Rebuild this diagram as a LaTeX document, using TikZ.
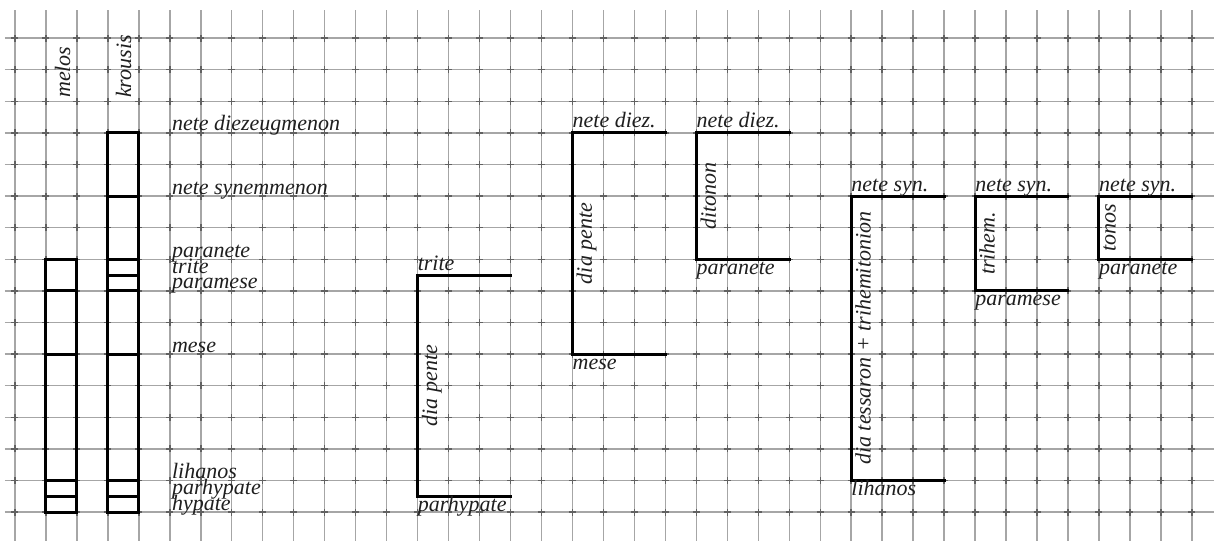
\documentclass[tikz,border=0pt]{standalone}
\usepackage{fontspec}
\setmainfont{Liberation Serif}
\begin{document}
\begin{tikzpicture}[x=30.97pt,y=-31.6pt,
  gridline/.style={draw=black!35,line width=1.4pt},
  gridtick/.style={draw=black!62,line width=1.4pt},
  heavy/.style={draw=black,line width=3pt,line cap=rect},
  lab/.style={font=\fontsize{22}{24}\selectfont\itshape,inner sep=0pt,text=black!88},
  rlab/.style={lab,rotate=90,anchor=north},
  toplab/.style={lab,anchor=base west,yshift=5pt},
  botlab/.style={lab,anchor=base west,yshift=-15pt},
  leftlab/.style={lab,anchor=base west,yshift=2pt,xshift=2pt}]
\useasboundingbox (-0.4843,-1.2025) rectangle (38.715,15.918);
\fill[white] (-0.4843,-1.2025) rectangle (38.715,15.918);
% graph paper
\foreach \i in {0,...,38} \draw[gridline] (\i,-0.886) -- (\i,15.918);
\foreach \j in {0,...,15} \draw[gridline] (-0.323,\j) -- (38.715,\j);
\foreach \i in {0,...,38} \foreach \j in {0,...,15}
  \draw[gridtick] (\i,\j) +(-3.5pt,0) -- +(3.5pt,0) +(0,-3.5pt) -- +(0,3.5pt);
% column headings
\node[lab,rotate=90,anchor=base west] (melos) at (1.776,1.899) {melos};
\node[lab,rotate=90,anchor=base west] (krousis) at (3.746,1.899) {krousis};
% melos column
\draw[heavy] (1,7) rectangle (2,15);
\foreach \j in {8,10,14,14.5} \draw[heavy] (1,\j) -- (2,\j);
% krousis column
\draw[heavy] (3,3) rectangle (4,15);
\foreach \j in {5,7,7.5,8,10,14,14.5} \draw[heavy] (3,\j) -- (4,\j);
% note names
\node[leftlab] (nd) at (5,3) {nete diezeugmenon};
\node[leftlab] (ns) at (5,5) {nete synemmenon};
\node[leftlab] (pn) at (5,7) {paranete};
\node[leftlab] (tr) at (5,7.5) {trite};
\node[leftlab] (pm) at (5,8) {paramese};
\node[leftlab] (me) at (5,10) {mese};
\node[leftlab] (li) at (5,14) {lihanos};
\node[leftlab] (ph) at (5,14.5) {parhypate};
\node[leftlab] (hy) at (5,15) {hypate};
% bracket 1
\draw[heavy] (16,7.5) -- (13,7.5) -- (13,14.5) -- (16,14.5);
\node[toplab] (b1t) at (13,7.5) {trite};
\node[botlab] (b1b) at (13,14.5) {parhypate};
\node[rlab] (b1r) at ([xshift=4pt]13,11) {dia pente};
% bracket 2
\draw[heavy] (21,3) -- (18,3) -- (18,10) -- (21,10);
\node[toplab] (b2t) at (18,3) {nete diez.};
\node[botlab] (b2b) at (18,10) {mese};
\node[rlab] (b2r) at ([xshift=4pt]18,6.5) {dia pente};
% bracket 3
\draw[heavy] (25,3) -- (22,3) -- (22,7) -- (25,7);
\node[toplab] (b3t) at (22,3) {nete diez.};
\node[botlab] (b3b) at (22,7) {paranete};
\node[rlab] (b3r) at ([xshift=4pt]22,5) {ditonon};
% bracket 4
\draw[heavy] (30,5) -- (27,5) -- (27,14) -- (30,14);
\node[toplab] (b4t) at (27,5) {nete syn.};
\node[botlab] (b4b) at (27,14) {lihanos};
\node[rlab] (b4r) at ([xshift=4pt]27,9.5) {dia tessaron + trihemitonion};
% bracket 5
\draw[heavy] (34,5) -- (31,5) -- (31,8) -- (34,8);
\node[toplab] (b5t) at (31,5) {nete syn.};
\node[botlab] (b5b) at (31,8) {paramese};
\node[rlab] (b5r) at ([xshift=4pt]31,6.5) {trihem.};
% bracket 6
\draw[heavy] (38,5) -- (35,5) -- (35,7) -- (38,7);
\node[toplab] (b6t) at (35,5) {nete syn.};
\node[botlab] (b6b) at (35,7) {paranete};
\node[rlab] (b6r) at ([xshift=4pt]35,6) {tonos};
\end{tikzpicture}
\end{document}
